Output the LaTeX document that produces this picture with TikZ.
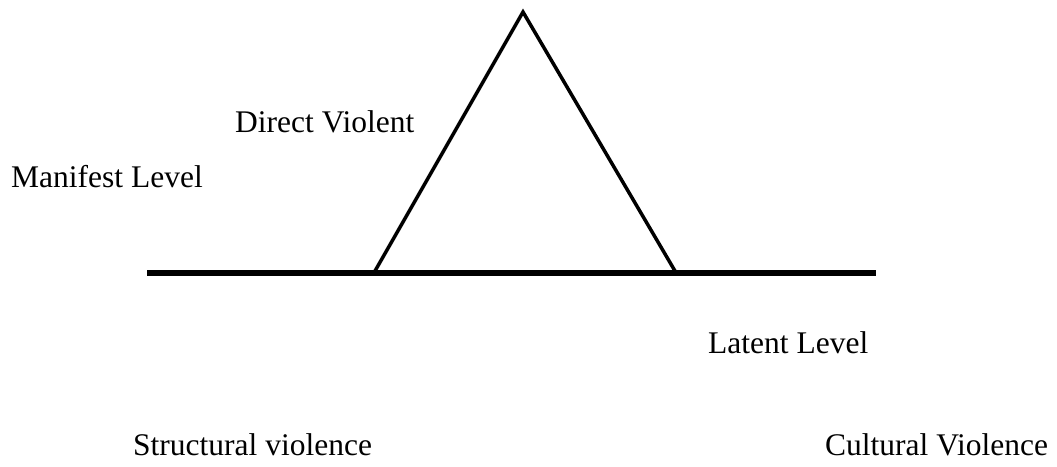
\documentclass[tikz,border=0pt]{standalone}
\usepackage{fontspec}
\setmainfont{Liberation Serif}
\begin{document}
\begin{tikzpicture}[x=1pt,y=-1pt,
  lbl/.style={anchor=base west,inner sep=0pt,font=\fontsize{31.5}{36}\selectfont},
  tri/.style={line width=3.5pt,line join=miter},
  base/.style={line width=6pt}]
\useasboundingbox (0,0) rectangle (1057,466);
\coordinate (apex) at (523,12);
\coordinate (bl) at (375,271);
\coordinate (br) at (675,271);
\coordinate (hl) at (147,273);
\coordinate (hr) at (876,273);
\draw[tri] (bl) -- (apex) -- (br);
\draw[base] (hl) -- (hr);
\node[lbl] (dv) at (235,132) {Direct Violent};
\node[lbl] (ml) at (11,187) {Manifest Level};
\node[lbl] (ll) at (708,353) {Latent Level};
\node[lbl] (sv) at (133,455) {Structural violence};
\node[lbl] (cv) at (825,455) {Cultural Violence};
\end{tikzpicture}
\end{document}
